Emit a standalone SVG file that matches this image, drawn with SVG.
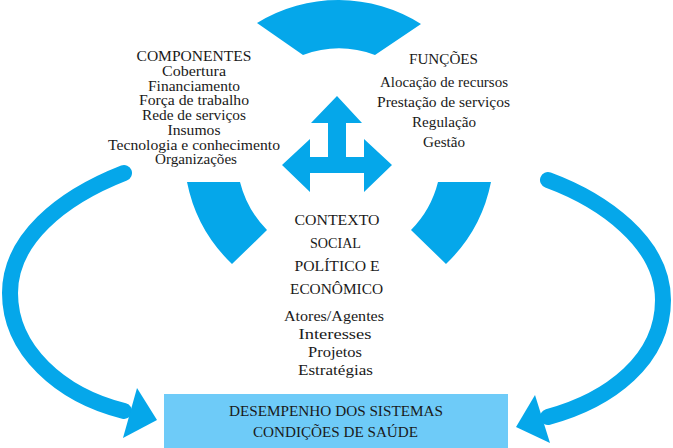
<svg xmlns="http://www.w3.org/2000/svg" width="673" height="448" viewBox="0 0 673 448">
<style>
.blue{fill:#05A7EA;}
.curve{fill:none;stroke:#05A7EA;stroke-width:16;}
.t{font-size:15px;fill:#1a1a1a;text-anchor:middle;}
.box{fill:#6ECBF8;}
</style>
<rect width="673" height="448" fill="#ffffff"/>
<g id="ring-top"><path class="blue" d="M257,23 A155,155 0 0 1 421,24 L375,55 A104,104 0 0 0 303,55 Z"/></g>
<g id="ring-left"><path class="blue" d="M187,182 A155,155 0 0 0 232,264 L267,230 A104,104 0 0 1 240,182 Z"/></g>
<g id="ring-right"><path class="blue" d="M491,182 A155,155 0 0 1 446,264 L411,230 A104,104 0 0 0 438,182 Z"/></g>
<g id="central-arrow"><polygon class="blue" points="337,96 362,123 346,123 346,157 364,157 364,139 392,165 364,192 364,173 310,173 310,192 282,165 310,139 310,157 328,157 328,123 311,123"/></g>
<g id="componentes" font-family="Liberation Serif, DejaVu Serif, serif">
<text class="t" x="194" y="61" textLength="115" lengthAdjust="spacingAndGlyphs">COMPONENTES</text>
<text class="t" x="194" y="76" textLength="64" lengthAdjust="spacingAndGlyphs">Cobertura</text>
<text class="t" x="194" y="90.5" textLength="92" lengthAdjust="spacingAndGlyphs">Financiamento</text>
<text class="t" x="194" y="105" textLength="110" lengthAdjust="spacingAndGlyphs">Força de trabalho</text>
<text class="t" x="194" y="120" textLength="104" lengthAdjust="spacingAndGlyphs">Rede de serviços</text>
<text class="t" x="194" y="134.5" textLength="53" lengthAdjust="spacingAndGlyphs">Insumos</text>
<text class="t" x="194" y="149.5" textLength="172" lengthAdjust="spacingAndGlyphs">Tecnologia e conhecimento</text>
<text class="t" x="196" y="164" textLength="82" lengthAdjust="spacingAndGlyphs">Organizações</text>
</g>
<g id="funcoes" font-family="Liberation Serif, DejaVu Serif, serif">
<text class="t" x="443.5" y="64" textLength="69" lengthAdjust="spacingAndGlyphs">FUNÇÕES</text>
<text class="t" x="444" y="87" textLength="128" lengthAdjust="spacingAndGlyphs">Alocação de recursos</text>
<text class="t" x="443.5" y="107" textLength="133" lengthAdjust="spacingAndGlyphs">Prestação de serviços</text>
<text class="t" x="444" y="127" textLength="64" lengthAdjust="spacingAndGlyphs">Regulação</text>
<text class="t" x="444" y="147" textLength="42" lengthAdjust="spacingAndGlyphs">Gestão</text>
</g>
<g id="contexto" font-family="Liberation Serif, DejaVu Serif, serif">
<text class="t" x="337" y="225" textLength="85" lengthAdjust="spacingAndGlyphs">CONTEXTO</text>
<text class="t" x="335.5" y="248" textLength="51" lengthAdjust="spacingAndGlyphs">SOCIAL</text>
<text class="t" x="337" y="271" textLength="85" lengthAdjust="spacingAndGlyphs">POLÍTICO E</text>
<text class="t" x="336.5" y="294" textLength="93" lengthAdjust="spacingAndGlyphs">ECONÔMICO</text>
<text class="t" x="334" y="321" textLength="100" lengthAdjust="spacingAndGlyphs">Atores/Agentes</text>
<text class="t" x="335" y="339" textLength="73" lengthAdjust="spacingAndGlyphs">Interesses</text>
<text class="t" x="335" y="357" textLength="54" lengthAdjust="spacingAndGlyphs">Projetos</text>
<text class="t" x="335.5" y="375" textLength="75" lengthAdjust="spacingAndGlyphs">Estratégias</text>
</g>
<g id="desempenho" font-family="Liberation Serif, DejaVu Serif, serif">
<rect class="box" x="164" y="394" width="344" height="54"/>
<text class="t" x="336" y="416" textLength="214" lengthAdjust="spacingAndGlyphs">DESEMPENHO DOS SISTEMAS</text>
<text class="t" x="335.5" y="437" textLength="165" lengthAdjust="spacingAndGlyphs">CONDIÇÕES DE SAÚDE</text>
</g>
<g id="connectors">
<path class="curve" stroke-linecap="round" d="M124,173 C60,198 10,240 10,293 C10,350 60,395 124,411"/>
<polygon class="blue" points="137,388 157,420 123,438"/>
<path class="curve" stroke-linecap="round" d="M548,180 C602,200 663,242 663,300 C663,360 610,400 548,417"/>
<polygon class="blue" points="535,395 516,427 550,443"/>
</g>
</svg>
